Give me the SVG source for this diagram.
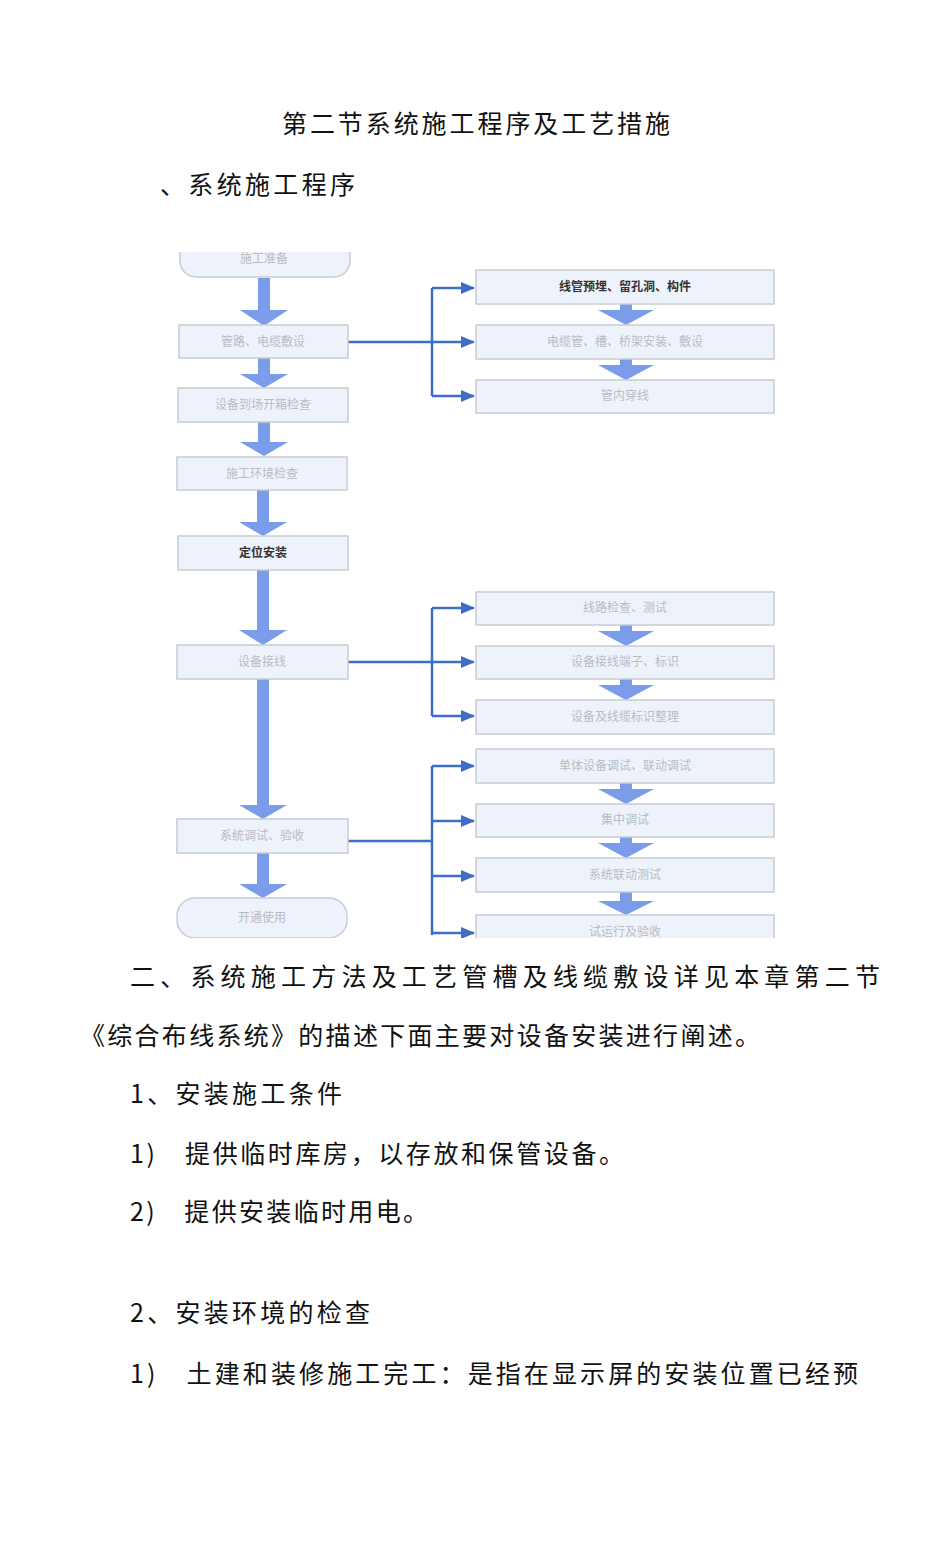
<svg xmlns="http://www.w3.org/2000/svg" width="950" height="1564" viewBox="0 0 950 1564">
<style>
.t{font-family:"Noto Sans CJK SC",serif;font-size:25px;fill:#111}
.b{fill:#eef2fa;stroke:#c8ccd4;stroke-width:1.5}
.bl{font-family:"Noto Sans CJK SC",sans-serif;font-size:12px;fill:#b8bcc4;text-anchor:middle}
.bd{font-family:"Noto Sans CJK SC",sans-serif;font-size:12px;fill:#333;font-weight:bold;text-anchor:middle}
.c{fill:none;stroke:#3d6ec4;stroke-width:2.5}
.fa{fill:#7b9de9}
</style>
<defs>
<marker id="ah" markerWidth="14" markerHeight="12" refX="13" refY="6" orient="auto" markerUnits="userSpaceOnUse" viewBox="0 0 14 12"><path d="M0,0 L14,6 L0,12 z" fill="#3d6ec4"/></marker>
<clipPath id="cl"><rect x="170" y="252" width="620" height="686"/></clipPath>
</defs>
<text class="t" x="476" y="133" text-anchor="middle" font-size="26" textLength="388" lengthAdjust="spacing">第二节系统施工程序及工艺措施</text>
<text class="t" x="160" y="194" textLength="195" lengthAdjust="spacing">、系统施工程序</text>
<g clip-path="url(#cl)">
<g id="fat">
<path class="fa" d="M258,278h12v32h18l-24,16l-24,-16h18z"/>
<path class="fa" d="M258,358h12v16h18l-24,14l-24,-14h18z"/>
<path class="fa" d="M258,422h12v20h18l-24,14l-24,-14h18z"/>
<path class="fa" d="M257,490h12v32h18l-24,14l-24,-14h18z"/>
<path class="fa" d="M257,570h12v60h18l-24,15l-24,-15h18z"/>
<path class="fa" d="M257,679h12v126h18l-24,14l-24,-14h18z"/>
<path class="fa" d="M257,853h12v31h18l-24,14l-24,-14h18z"/>
<path class="fa" d="M620,304h12v6h22l-28,15l-28,-15h22z"/>
<path class="fa" d="M620,359h12v6h22l-28,15l-28,-15h22z"/>
<path class="fa" d="M620,625h12v6h22l-28,15l-28,-15h22z"/>
<path class="fa" d="M620,679h12v6h22l-28,15l-28,-15h22z"/>
<path class="fa" d="M620,783h12v6h22l-28,15l-28,-15h22z"/>
<path class="fa" d="M620,837h12v6h22l-28,15l-28,-15h22z"/>
<path class="fa" d="M620,892h12v9h22l-28,14l-28,-14h22z"/>
</g>
<g id="connectors">
<path class="c" d="M348,342H432"/>
<path class="c" d="M432,288V396" />
<path class="c" marker-end="url(#ah)" d="M432,288H474"/>
<path class="c" marker-end="url(#ah)" d="M432,342H474"/>
<path class="c" marker-end="url(#ah)" d="M432,396H474"/>
<path class="c" d="M348,662H432"/>
<path class="c" d="M432,608V716"/>
<path class="c" marker-end="url(#ah)" d="M432,608H474"/>
<path class="c" marker-end="url(#ah)" d="M432,662H474"/>
<path class="c" marker-end="url(#ah)" d="M432,716H474"/>
<path class="c" d="M348,841H432"/>
<path class="c" d="M432,766V935"/>
<path class="c" marker-end="url(#ah)" d="M432,766H474"/>
<path class="c" marker-end="url(#ah)" d="M432,821H474"/>
<path class="c" marker-end="url(#ah)" d="M432,876H474"/>
<path class="c" marker-end="url(#ah)" d="M432,933H474"/>
</g>
<g id="n1"><rect class="b" x="180" y="236" width="170" height="41" rx="16"/><text class="bl" x="264" y="263">施工准备</text></g>
<g id="n2"><rect class="b" x="179" y="325" width="169" height="33"/><text class="bl" x="263" y="346">管路、电缆敷设</text></g>
<g id="n3"><rect class="b" x="178" y="388" width="170" height="34"/><text class="bl" x="263" y="409">设备到场开箱检查</text></g>
<g id="n4"><rect class="b" x="177" y="457" width="170" height="33"/><text class="bl" x="262" y="478">施工环境检查</text></g>
<g id="n5"><rect class="b" x="178" y="536" width="170" height="34"/><text class="bd" x="263" y="557">定位安装</text></g>
<g id="n6"><rect class="b" x="177" y="645" width="171" height="34"/><text class="bl" x="262" y="666">设备接线</text></g>
<g id="n7"><rect class="b" x="177" y="819" width="171" height="34"/><text class="bl" x="262" y="840">系统调试、验收</text></g>
<g id="n8"><rect class="b" x="177" y="898" width="170" height="40" rx="18"/><text class="bl" x="262" y="922">开通使用</text></g>
<g id="r1"><rect class="b" x="476" y="270" width="298" height="34"/><text class="bd" x="625" y="291">线管预埋、留孔洞、构件</text></g>
<g id="r2"><rect class="b" x="476" y="325" width="298" height="34"/><text class="bl" x="625" y="346">电缆管、槽、桥架安装、敷设</text></g>
<g id="r3"><rect class="b" x="476" y="380" width="298" height="33"/><text class="bl" x="625" y="400">管内穿线</text></g>
<g id="r4"><rect class="b" x="476" y="592" width="298" height="33"/><text class="bl" x="625" y="612">线路检查、测试</text></g>
<g id="r5"><rect class="b" x="476" y="646" width="298" height="33"/><text class="bl" x="625" y="666">设备接线端子、标识</text></g>
<g id="r6"><rect class="b" x="476" y="700" width="298" height="34"/><text class="bl" x="625" y="721">设备及线缆标识整理</text></g>
<g id="r7"><rect class="b" x="476" y="749" width="298" height="34"/><text class="bl" x="625" y="770">单体设备调试、联动调试</text></g>
<g id="r8"><rect class="b" x="476" y="804" width="298" height="33"/><text class="bl" x="625" y="824">集中调试</text></g>
<g id="r9"><rect class="b" x="476" y="858" width="298" height="34"/><text class="bl" x="625" y="879">系统联动测试</text></g>
<g id="r10"><rect class="b" x="476" y="915" width="298" height="34"/><text class="bl" x="625" y="936">试运行及验收</text></g>
</g>
<text class="t" x="130" y="986" textLength="750" lengthAdjust="spacing">二、系统施工方法及工艺管槽及线缆敷设详见本章第二节</text>
<text class="t" x="80" y="1045" textLength="680" lengthAdjust="spacing">《综合布线系统》的描述下面主要对设备安装进行阐述。</text>
<text class="t" x="130" y="1103" textLength="212" lengthAdjust="spacing">1、安装施工条件</text>
<text class="t" x="130" y="1163" textLength="494" lengthAdjust="spacing">1)　提供临时库房，以存放和保管设备。</text>
<text class="t" x="130" y="1221" textLength="298" lengthAdjust="spacing">2)　提供安装临时用电。</text>
<text class="t" x="130" y="1322" textLength="240" lengthAdjust="spacing">2、安装环境的检查</text>
<text class="t" x="130" y="1383" textLength="728" lengthAdjust="spacing">1)　土建和装修施工完工：是指在显示屏的安装位置已经预</text>
</svg>
